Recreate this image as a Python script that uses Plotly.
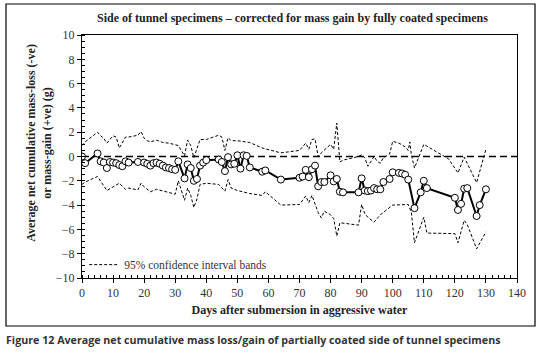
import plotly.graph_objects as go

# Main series: average net cumulative mass change (g)
days = [0, 1, 5, 6, 7, 8, 9, 10, 11, 12, 13, 14, 15, 18, 20, 21, 22, 23, 24, 25, 26, 27, 28, 29, 30,
        31, 33, 34, 35, 36, 37, 38, 39, 40, 44, 45, 46, 47, 48, 49, 50, 51, 52, 53, 54, 58, 59, 64,
        70, 71, 72, 73, 74, 75, 76, 77, 78, 80, 81, 82, 83, 84, 89, 90, 91, 92, 93, 94, 95, 96, 97,
        99, 100, 102, 103, 104, 105, 107, 109, 110, 111, 120, 121, 122, 123, 124, 127, 128, 130]
mass = [0, -0.55, 0.25, -0.4, -0.5, -0.95, -0.45, -0.5, -0.55, -0.7, -0.8, -0.4, -0.5, -0.45, -0.5,
        -0.6, -0.75, -0.55, -0.5, -0.6, -0.75, -0.9, -0.95, -1.05, -1.1,
        -0.4, -1.8, -0.65, -0.95, -2.0, -1.85, -0.75, -0.5, -0.3, -0.25, -0.45, -1.2, -0.05, -0.65,
        -0.6, 0.1, -1.0, 0.1, 0.05, -0.9, -1.25, -1.15, -1.9,
        -1.75, -1.65, -1.1, -1.7, -1.05, -0.75, -2.45, -2.1, -2.1, -1.55, -2.05, -1.85, -2.9, -2.95,
        -2.95, -1.8, -2.8, -2.85, -2.8, -2.6, -2.7, -2.7, -2.1,
        -1.85, -1.3, -1.35, -1.4, -1.5, -1.9, -4.25, -2.95, -2.0, -2.6, -3.4, -4.4, -3.9, -2.65,
        -2.6, -4.9, -4.0, -2.7]

# Upper 95% confidence band
upper_days = [0, 1, 5, 6, 7, 8, 10, 11, 12, 14, 15, 18, 19, 20, 21, 22, 24, 26, 28, 30, 31, 33, 34,
              35, 36, 38, 40, 44, 45, 46, 47, 48, 50, 54, 58, 64, 70, 72, 73, 74, 75, 76, 77, 80,
              81, 82, 83, 84, 89, 90, 91, 92, 94, 95, 96, 97, 99, 100, 102, 104, 105, 105.5, 106,
              107, 110, 118, 121, 123, 127, 130]
upper = [0.9, 1.2, 2.0, 1.7, 1.5, 1.1, 1.7, 1.6, 0.7, 1.6, 1.6, 1.75, 2.05, 1.5, 1.3, 1.2, 1.35,
         1.15, 1.1, 1.0, 0.9, 0.05, 1.35, 0.9, -0.1, 1.4, 1.4, 1.75, 1.6, 0.5, 1.55, 1.3, 1.3,
         1.15, 0.7, 0.3, 0.5, 1.1, 0.6, 1.4, 1.45, 0.0, 0.3, 1.0,
         0.6, 2.75, -0.45, -0.3, 0.0, 0.15, -0.1, -0.8, 0.0, -0.4, -0.55, -0.1, 0.2, 1.25, 1.1,
         0.8, 0.5, 1.2, 0.15, -0.95, 1.0, -0.2, -1.35, -0.05, -2.15, 0.6]

# Lower 95% confidence band
lower_days = [0, 1, 5, 6, 8, 10, 12, 14, 15, 18, 19, 20, 22, 24, 26, 28, 30, 31, 33, 34, 35, 36,
              37, 38, 40, 44, 45, 46, 47, 48, 50, 54, 58, 59, 64, 70, 72, 73, 74, 76, 77, 78, 80,
              81, 82, 83, 89, 90, 91, 92, 94, 96, 97, 100, 105, 106, 107, 110, 111, 120, 121, 123,
              124, 127, 130]
lower = [-2.3, -2.1, -1.65, -2.0, -2.8, -2.5, -2.2, -2.7, -2.6, -2.75, -2.2, -2.5, -2.9, -2.7,
         -2.85, -2.95, -3.1, -2.0, -3.6, -2.6, -3.2, -4.2, -3.5, -2.3, -2.2, -2.3, -2.6, -2.85,
         -1.9, -2.6, -2.8, -3.05, -3.2, -2.9, -4.0, -3.95, -3.25, -3.8, -3.2, -4.6, -5.05, -4.5,
         -4.8, -5.1, -6.55, -5.45, -5.65, -3.95, -4.7, -5.0, -5.4, -4.8, -4.6, -4.0, -3.95, -4.6,
         -7.1, -5.0, -6.3, -6.35, -7.1, -5.25, -5.6, -7.6, -6.2]

x_range = [0, 140]
y_range = [-10, 10]
x_ticks = list(range(0, 141, 10))
y_ticks = list(range(-10, 11, 2))

SERIF = "Liberation Serif, DejaVu Serif, serif"

fig = go.Figure()

# zero reference line
fig.add_trace(go.Scatter(x=x_range, y=[0, 0], mode="lines", showlegend=False,
                         line=dict(color="black", width=1.5, dash="7px,4px"), hoverinfo="skip"))

fig.add_trace(go.Scatter(x=upper_days, y=upper, mode="lines", name="95% confidence interval bands",
                         line=dict(color="black", width=1, dash="3px,2px")))
fig.add_trace(go.Scatter(x=lower_days, y=lower, mode="lines", showlegend=False,
                         line=dict(color="black", width=1, dash="3px,2px")))

fig.add_trace(go.Scatter(x=days, y=mass, mode="lines+markers", showlegend=False,
                         line=dict(color="black", width=2),
                         marker=dict(symbol="circle", size=7, color="white",
                                     line=dict(color="black", width=1))))

axis_common = dict(showline=True, linecolor="black", linewidth=1, mirror=True,
                   showgrid=False, zeroline=False, ticks="outside", ticklen=4,
                   tickcolor="black", tickfont=dict(family=SERIF, size=12, color="#333"))

fig.update_xaxes(range=x_range, tickvals=x_ticks, **axis_common,
                 minor=dict(dtick=2, ticks="inside", ticklen=3, tickcolor="black"),
                 title=dict(text="<b>Days after submersion in aggressive water</b>",
                            font=dict(family=SERIF, size=12, color="#222"), standoff=6))
fig.update_yaxes(range=y_range, tickvals=y_ticks, **axis_common,
                 minor=dict(dtick=0.5, ticks="inside", ticklen=3, tickcolor="black"))

fig.add_annotation(text="<b>Average net cumulative mass-loss (-ve)<br>or mass-gain (+ve) (g)</b>",
                   xref="paper", yref="paper", x=-0.099, y=0.556, textangle=-90,
                   xanchor="center", yanchor="middle",
                   showarrow=False, font=dict(family=SERIF, size=12, color="#222"))

fig.add_annotation(text="<b>Side of tunnel specimens – corrected for mass gain by fully coated specimens</b>",
                   xref="paper", yref="paper", x=0.483, y=1.0, yshift=17, xanchor="center", yanchor="middle",
                   showarrow=False, font=dict(family=SERIF, size=12, color="#222"))

fig.add_annotation(text="<b>Figure 12</b> <b>Average net cumulative mass loss/gain of partially coated side of tunnel specimens</b>",
                   xref="paper", yref="paper", x=-0.18, y=-0.255, xanchor="left", yanchor="middle",
                   showarrow=False, font=dict(family="Open Sans, Noto Sans, sans-serif", size=10.7, color="#333"))

# outer frame
fig.add_shape(type="rect", xref="paper", yref="paper", x0=-0.1747, x1=1.0414, y0=-0.1975, y1=1.1276,
              line=dict(color="black", width=1.2), fillcolor="rgba(0,0,0,0)")

fig.update_layout(width=540, height=360, margin=dict(l=82, r=23, t=35, b=82),
                  paper_bgcolor="white", plot_bgcolor="white",
                  legend=dict(x=0.005, y=0.055, xanchor="left", yanchor="middle",
                              bgcolor="rgba(0,0,0,0)", font=dict(family=SERIF, size=11.5, color="#333"),
                              itemwidth=30, tracegroupgap=0))

# remove the default page margin so the figure sits at the window's top-left corner
fig.write_html("out.html", config={"displayModeBar": False},
               post_script="document.body.style.margin='0';")
